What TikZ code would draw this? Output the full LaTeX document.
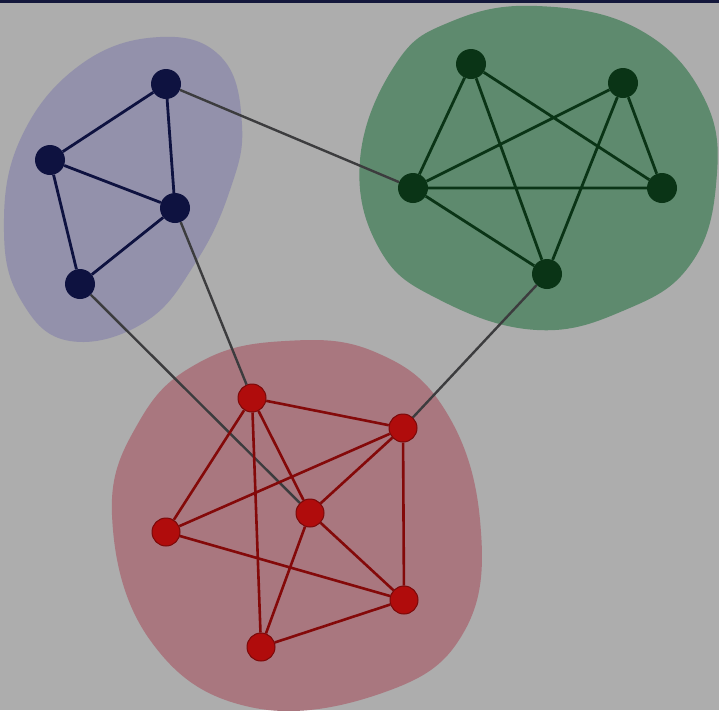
\documentclass[tikz,border=0pt]{standalone}
\definecolor{bggray}{RGB}{173,173,173}
\definecolor{topbar}{RGB}{20,24,60}
\definecolor{blobblue}{RGB}{147,145,171}
\definecolor{blobgreen}{RGB}{94,138,110}
\definecolor{blobred}{RGB}{169,119,127}
\definecolor{dotblue}{RGB}{14,18,64}
\definecolor{dotgreen}{RGB}{10,52,22}
\definecolor{dotred}{RGB}{176,12,12}
\definecolor{linkgray}{RGB}{60,60,62}
\tikzset{
  vblue/.style  = {circle, fill=dotblue, inner sep=0pt, minimum size=30pt},
  vgreen/.style = {circle, fill=dotgreen, inner sep=0pt, minimum size=30pt},
  vred/.style   = {circle, fill=dotred, draw=dotred!70!black, line width=1pt,
                   inner sep=0pt, minimum size=28pt},
  eblue/.style  = {draw=dotblue, line width=2.8pt},
  egreen/.style = {draw=dotgreen, line width=2.8pt},
  ered/.style   = {draw=dotred!75!black, line width=2.6pt},
  link/.style   = {draw=linkgray, line width=2.4pt}
}
\begin{document}
\begin{tikzpicture}[x=1pt,y=-1pt]
  \fill [bggray] (0,0) rectangle (719,710);
  \useasboundingbox (0,0) rectangle (719,710);
  \fill [topbar] (0,0) rectangle (719,3);
  % blobs
  \fill [blobblue] plot [smooth cycle, tension=0.7] coordinates
    {(160,37) (222,58) (242,125) (230,190) (196,262) (145,322)
     (70,341) (22,302) (4,232) (20,140) (80,65)};
  \fill [blobgreen] plot [smooth cycle, tension=0.7] coordinates
    {(537,6) (640,30) (705,100) (716,185) (690,265) (625,310)
     (537,330) (440,300) (380,250) (360,160) (395,65) (450,22)};
  \fill [blobred] plot [smooth cycle, tension=0.7] coordinates
    {(285,341) (375,352) (445,410) (480,520) (465,630) (385,692)
     (250,707) (150,640) (112,515) (140,420) (200,362)};
  % nodes
  \node [vblue] (b1) at (166,84) {};
  \node [vblue] (b2) at (50,160) {};
  \node [vblue] (b3) at (175,208) {};
  \node [vblue] (b4) at (80,284) {};
  \node [vgreen] (g1) at (471,64) {};
  \node [vgreen] (g2) at (623,83) {};
  \node [vgreen] (g3) at (413,188) {};
  \node [vgreen] (g4) at (662,188) {};
  \node [vgreen] (g5) at (547,274) {};
  \node [vred] (r1) at (252,398) {};
  \node [vred] (r2) at (403,428) {};
  \node [vred] (r3) at (166,532) {};
  \node [vred] (r4) at (310,513) {};
  \node [vred] (r5) at (404,600) {};
  \node [vred] (r6) at (261,647) {};
  % links between the groups
  \draw [link] (b1) -- (g3);
  \draw [link] (b3) -- (r1);
  \draw [link] (b4) -- (r4);
  \draw [link] (g5) -- (r2);
  % edges inside the groups
  \draw [eblue] (b1) -- (b2) (b1) -- (b3) (b2) -- (b3) (b2) -- (b4)
    (b3) -- (b4);
  \draw [egreen] (g1) -- (g3) (g1) -- (g5) (g1) -- (g4) (g2) -- (g3)
    (g2) -- (g4) (g2) -- (g5) (g3) -- (g4) (g3) -- (g5);
  \draw [ered] (r1) -- (r2) (r1) -- (r3) (r1) -- (r4) (r1) -- (r6)
    (r2) -- (r3) (r2) -- (r4) (r2) -- (r5) (r3) -- (r5) (r4) -- (r5)
    (r4) -- (r6) (r6) -- (r5);
\end{tikzpicture}
\end{document}
